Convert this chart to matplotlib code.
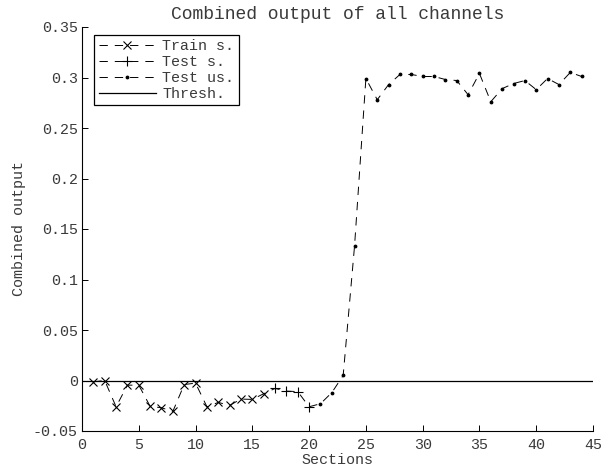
import matplotlib
matplotlib.use('Agg')
import matplotlib.pyplot as plt
from matplotlib.lines import Line2D

plt.rcParams['font.family'] = ['Liberation Mono', 'DejaVu Sans Mono']
plt.rcParams['font.size'] = 10.8
plt.rcParams['lines.scale_dashes'] = False

# section index and combined output per section
train_x = list(range(1, 17))
train_y = [-0.0013, 0.0, -0.026, -0.0046, -0.0046, -0.0256, -0.027, -0.0306,
           -0.004, -0.0026, -0.026, -0.0217, -0.0246, -0.0184, -0.0187, -0.0131]
test_s_x = list(range(17, 21))
test_s_y = [-0.0079, -0.0105, -0.011, -0.026]
test_us_x = list(range(21, 45))
test_us_y = [-0.023, -0.012, 0.005, 0.133, 0.299, 0.278, 0.293, 0.303, 0.303,
             0.301, 0.301, 0.298, 0.297, 0.283, 0.304, 0.276, 0.289, 0.294,
             0.297, 0.288, 0.299, 0.293, 0.305, 0.301]
thresh_x = [0, 45]
thresh_y = [0, 0]

xticks = list(range(0, 46, 5))
yticks = [-0.05, 0, 0.05, 0.1, 0.15, 0.2, 0.25, 0.3, 0.35]
ytick_labels = ['-0.05', '0', '0.05', '0.1', '0.15', '0.2', '0.25', '0.3', '0.35']

txt = '#3a3a3a'
W, H = 614, 471
L, R, T, B = 82, 593, 27, 431

fig = plt.figure(figsize=(W / 100, H / 100), dpi=100)
ax = fig.add_axes([L / W, 1 - B / H, (R - L) / W, (B - T) / H])

lw = 0.7
dash = (6, 5)
all_x = train_x + test_s_x + test_us_x
all_y = train_y + test_s_y + test_us_y
ax.plot(all_x, all_y, color='k', lw=lw, ls='--', dashes=dash)
ax.plot(train_x, train_y, 'x', color='k', ms=5.5, mew=0.8)
ax.plot(test_s_x, test_s_y, '+', color='k', ms=7.5, mew=0.8)
ax.plot(test_us_x, test_us_y, '.', color='k', ms=3.5)
ax.plot(thresh_x, thresh_y, '-', color='k', lw=0.9)

handles = [
    Line2D([], [], color='k', lw=lw, ls='--', dashes=dash, marker='x', ms=5.5, mew=0.8),
    Line2D([], [], color='k', lw=lw, ls='--', dashes=dash, marker='+', ms=7.5, mew=0.8),
    Line2D([], [], color='k', lw=lw, ls='--', dashes=dash, marker='.', ms=3.5),
    Line2D([], [], color='k', lw=0.9, ls='-'),
]
leg = ax.legend(handles, ['Train s.', 'Test s.', 'Test us.', 'Thresh.'],
                loc='upper left', bbox_to_anchor=(12 / (R - L), 1 - 8 / (B - T)),
                borderaxespad=0, fancybox=False, framealpha=1,
                handlelength=3.8, handletextpad=0.45, labelspacing=0.12,
                borderpad=0.3, fontsize=10.8, labelcolor=txt)
leg.get_frame().set_edgecolor('k')
leg.get_frame().set_linewidth(0.9)

ax.set_xlim(0, 45)
ax.set_ylim(-0.05, 0.35)
ax.set_xticks(xticks)
ax.set_yticks(yticks)
ax.set_yticklabels(ytick_labels)
ax.tick_params(direction='in', length=4, width=0.7, colors='k', labelcolor=txt)
ax.tick_params(axis='x', pad=5)
ax.tick_params(axis='y', pad=3)
ax.spines['top'].set_visible(False)
ax.spines['right'].set_visible(False)
ax.spines['left'].set_linewidth(0.8)
ax.spines['bottom'].set_linewidth(0.8)

ax.set_title('Combined output of all channels', color=txt, pad=6)
ax.set_xlabel('Sections', color=txt, labelpad=1)
ax.set_ylabel('Combined output', color=txt, labelpad=5)

fig.savefig('out.png', dpi=100)
